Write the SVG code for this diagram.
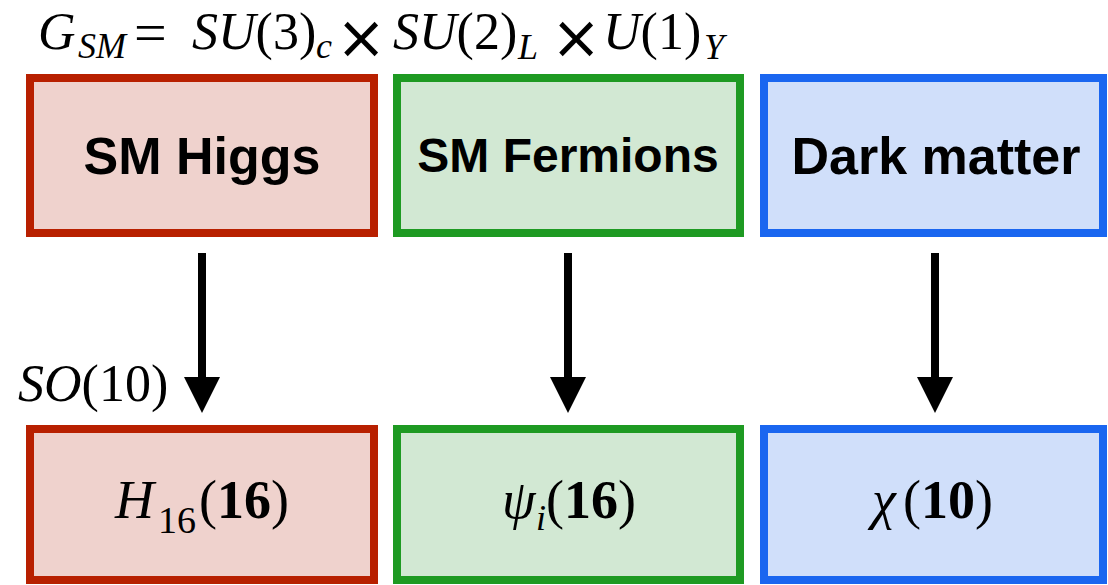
<svg xmlns="http://www.w3.org/2000/svg" width="1108" height="585" viewBox="0 0 1108 585">
  <defs>
    <style>
      .box { stroke-width: 8; }
      .red { fill: #EFD2CD; stroke: #B82000; }
      .green { fill: #D2E8D3; stroke: #1E9A22; }
      .blue { fill: #D0DFFA; stroke: #1A66F0; }
      .label { font-family: "Liberation Sans", Arial, sans-serif; font-weight: bold; fill: #000; text-anchor: middle; }
      .math { font-family: "Liberation Serif", "Times New Roman", serif; fill: #000; }
      .it { font-style: italic; }
      .bf { font-weight: bold; }
      .op { font-family: "DejaVu Sans", sans-serif; font-size: 60px; }
      .shaft { stroke: #000; stroke-width: 8; }
      .head { fill: #000; }
    </style>
  </defs>

  <rect width="1108" height="585" fill="#ffffff"/>

  <!-- symmetry group heading -->
  <text class="math" y="49" font-size="52"><tspan class="it" x="38">G</tspan><tspan class="it" x="78" y="58" font-size="36">SM</tspan><tspan x="134" y="52" font-size="58">=</tspan><tspan class="it" x="192" y="49">SU</tspan><tspan>(3)</tspan><tspan class="it" x="316" y="58" font-size="36">c</tspan><tspan class="op" x="336" y="58">×</tspan><tspan class="it" x="393" y="49">SU</tspan><tspan>(2)</tspan><tspan class="it" x="518" y="59" font-size="36">L</tspan><tspan class="op" x="551" y="58">×</tspan><tspan class="it" x="603" y="49">U</tspan><tspan>(1)</tspan><tspan class="it" x="704" y="59" font-size="36">Y</tspan></text>

  <!-- top row: SM content -->
  <g id="sm-higgs">
    <rect class="box red" x="30" y="78" width="344" height="155"/>
    <text class="label" x="202" y="174" font-size="52">SM Higgs</text>
  </g>
  <g id="sm-fermions">
    <rect class="box green" x="397" y="78" width="343" height="155"/>
    <text class="label" x="568" y="172" font-size="48">SM Fermions</text>
  </g>
  <g id="dark-matter">
    <rect class="box blue" x="764" y="78" width="339" height="155"/>
    <text class="label" x="936" y="174" font-size="52">Dark matter</text>
  </g>

  <!-- bottom row: SO(10) representations -->
  <g id="h16">
    <rect class="box red" x="30" y="429" width="344" height="151"/>
    <text class="math" y="518" font-size="54"><tspan class="it" x="115">H</tspan><tspan x="158" y="533" font-size="38">16</tspan><tspan x="199" y="518">(</tspan><tspan class="bf">16</tspan><tspan>)</tspan></text>
  </g>
  <g id="psi16">
    <rect class="box green" x="397" y="429" width="343" height="151"/>
    <text class="math" y="518" font-size="54"><tspan class="it" x="502">ψ</tspan><tspan class="it" x="536" y="530" font-size="36">i</tspan><tspan x="546" y="518">(</tspan><tspan class="bf">16</tspan><tspan>)</tspan></text>
  </g>
  <g id="chi10">
    <rect class="box blue" x="764" y="429" width="339" height="151"/>
    <text class="math" y="518" font-size="54"><tspan class="it" x="872">χ</tspan><tspan x="903">(</tspan><tspan class="bf">10</tspan><tspan>)</tspan></text>
  </g>

  <!-- embedding label -->
  <text class="math" y="401" font-size="52"><tspan class="it" x="18">SO</tspan><tspan>(10)</tspan></text>

  <!-- connectors -->
  <g id="connectors">
    <line class="shaft" x1="202" y1="253" x2="202" y2="380"/>
    <polygon class="head" points="184,377 220,377 202,413"/>
    <line class="shaft" x1="568" y1="253" x2="568" y2="380"/>
    <polygon class="head" points="550,377 586,377 568,413"/>
    <line class="shaft" x1="935" y1="253" x2="935" y2="380"/>
    <polygon class="head" points="917,377 953,377 935,413"/>
  </g>
</svg>
